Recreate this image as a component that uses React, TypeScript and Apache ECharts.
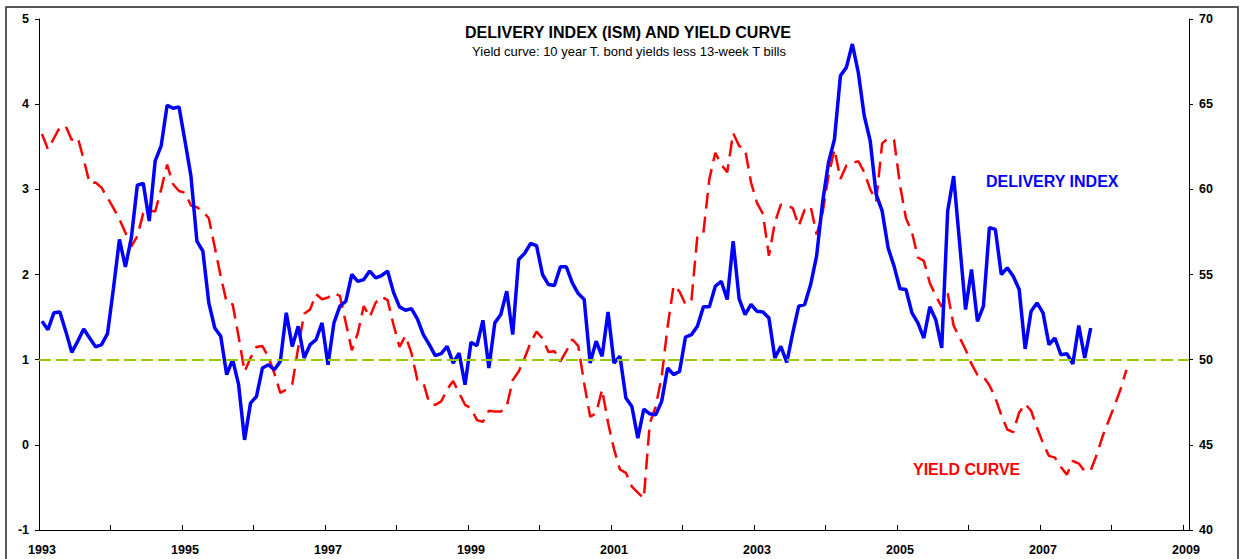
import React, { useEffect, useRef } from "react";
import * as echarts from "echarts";

// ---- Data ----
const START_YEAR = 1993;
const MONTH_COUNT = 193; // Jan 1993 .. Jan 2009

const categories: string[] = Array.from({ length: MONTH_COUNT }, (_, i) =>
  `${START_YEAR + Math.floor(i / 12)}-${String((i % 12) + 1).padStart(2, "0")}`
);

// Yield curve (left axis), monthly from Jan 1993
const yieldCurve: number[] = [
  3.65, 3.47, 3.60, 3.73, 3.74, 3.58, 3.61, 3.35, 3.07, 3.08, 3.02, 2.90,
  2.78, 2.65, 2.49, 2.33, 2.45, 2.72, 2.75, 2.74, 3.00, 3.29, 3.06, 2.98,
  2.96, 2.81, 2.79, 2.74, 2.66, 2.32, 1.98, 1.67, 1.65, 1.27, 0.86, 1.02,
  1.15, 1.16, 1.03, 0.84, 0.61, 0.65, 0.71, 1.14, 1.54, 1.59, 1.77, 1.71,
  1.73, 1.78, 1.75, 1.43, 1.11, 1.31, 1.63, 1.50, 1.67, 1.74, 1.70, 1.41,
  1.15, 1.28, 1.08, 0.76, 0.73, 0.49, 0.47, 0.51, 0.65, 0.75, 0.61, 0.47,
  0.43, 0.29, 0.27, 0.40, 0.39, 0.39, 0.45, 0.76, 0.86, 1.02, 1.20, 1.33,
  1.25, 1.09, 1.10, 0.98, 1.10, 1.24, 1.16, 0.72, 0.33, 0.37, 0.65, 0.26,
  -0.05, -0.29, -0.33, -0.49, -0.56, -0.63, 0.25, 0.45, 0.80, 1.39, 1.87, 1.80,
  1.65, 1.70, 2.46, 2.49, 3.12, 3.43, 3.29, 3.20, 3.66, 3.51, 3.47, 3.08,
  2.84, 2.71, 2.22, 2.61, 2.82, 2.81, 2.78, 2.57, 2.76, 2.80, 2.47, 2.72,
  3.16, 3.47, 3.12, 3.28, 3.31, 3.33, 3.20, 3.00, 2.86, 3.54, 3.60, 3.58,
  3.05, 2.66, 2.50, 2.20, 2.16, 1.90, 1.75, 1.62, 1.78, 1.40, 1.26, 1.12,
  0.95, 0.82, 0.80, 0.70, 0.55, 0.35, 0.18, 0.15, 0.38, 0.48, 0.40, 0.20,
  0.02, -0.13, -0.15, -0.26, -0.35, -0.19, -0.22, -0.31, -0.30, -0.12, 0.10, 0.28,
  0.46, 0.65, 0.88,
];

// ISM delivery index (right axis), monthly from Jan 1993
const deliveryIndex: number[] = [
  52.25, 51.76, 52.75, 52.8, 51.66, 50.43, 51.08, 51.8, 51.27, 50.75, 50.88, 51.53,
  54.2, 57.06, 55.45, 57.16, 60.24, 60.35, 58.14, 61.67, 62.55, 64.94, 64.76, 64.84,
  62.84, 60.78, 56.96, 56.37, 53.33, 51.86, 51.37, 49.12, 50.0, 48.53, 45.29, 47.45,
  47.84, 49.51, 49.7, 49.41, 49.9, 52.75, 50.78, 51.96, 50.1, 50.88, 51.18, 52.16,
  49.7, 52.16, 53.14, 53.43, 55.0, 54.6, 54.7, 55.2, 54.8, 54.94, 55.2, 53.95,
  53.1, 52.9, 53.0, 52.4, 51.47, 50.88, 50.24, 50.35, 50.78, 49.8, 50.39, 48.53,
  51.02, 50.82, 52.31, 49.51, 52.16, 52.65, 54.02, 51.47, 55.88, 56.24, 56.82, 56.7,
  55.0, 54.41, 54.35, 55.45, 55.45, 54.51, 53.88, 53.53, 49.8, 51.08, 50.2, 52.8,
  49.8, 50.2, 47.75, 47.25, 45.39, 47.1, 46.82, 46.76, 47.55, 49.51, 49.12, 49.31,
  51.33, 51.47, 51.96, 53.1, 53.1, 54.31, 54.6, 53.53, 56.96, 53.57, 52.65, 53.24,
  52.84, 52.8, 52.45, 50.1, 50.78, 49.84, 51.57, 53.14, 53.24, 54.41, 56.08, 59.22,
  61.57, 62.94, 66.67, 67.16, 68.53, 66.86, 64.31, 62.84, 59.7, 58.73, 56.57, 55.49,
  54.16, 54.12, 52.75, 52.16, 51.27, 53.1, 52.35, 50.69, 58.73, 60.78, 56.86, 52.94,
  55.29, 52.25, 53.14, 57.75, 57.65, 55.0, 55.39, 54.9, 54.12, 50.63, 52.84, 53.33,
  52.75, 50.88, 51.27, 50.29, 50.35, 49.75, 52.0, 50.1, 51.86,
];

const leftTicks = { min: -1, max: 5, interval: 1 };
const rightTicks = { min: 40, max: 70, interval: 5 };
const referenceLevel = 50;

const TITLE = "DELIVERY INDEX (ISM) AND YIELD CURVE";
const SUBTITLE = "Yield curve: 10 year T. bond yields less 13-week T bills";

const FONT = "'Liberation Sans', Arial, Helvetica, sans-serif";

export default function App() {
  const ref = useRef<HTMLDivElement>(null);

  useEffect(() => {
    if (!ref.current) return;
    const chart = echarts.init(ref.current, undefined, { renderer: "svg" });

    const axisLabelStyle = {
      fontFamily: FONT,
      fontWeight: "bold" as const,
      fontSize: 12.5,
      color: "#000",
    };

    chart.setOption({
      animation: false,
      backgroundColor: "#fff",
      grid: { left: 39, right: 55, top: 19, bottom: 29, containLabel: false },
      xAxis: {
        type: "category",
        data: categories,
        boundaryGap: true,
        axisLine: { show: true, onZero: false, lineStyle: { color: "#000", width: 1 } },
        axisTick: {
          show: true,
          inside: true,
          length: 5,
          interval: (i: number) => i % 12 === 0,
          lineStyle: { color: "#000", width: 1 },
        },
        axisLabel: {
          ...axisLabelStyle,
          margin: 13,
          interval: (i: number) => i % 24 === 0,
          formatter: (v: string) => v.slice(0, 4),
        },
        splitLine: { show: false },
      },
      yAxis: [
        {
          type: "value",
          position: "left",
          ...leftTicks,
          axisLine: { show: true, onZero: false, lineStyle: { color: "#000", width: 1 } },
          axisTick: { show: true, inside: false, length: 4, lineStyle: { color: "#000" } },
          axisLabel: { ...axisLabelStyle, margin: 10 },
          splitLine: { show: false },
        },
        {
          type: "value",
          position: "right",
          ...rightTicks,
          axisLine: { show: true, onZero: false, lineStyle: { color: "#000", width: 1 } },
          axisTick: { show: true, inside: false, length: 4, lineStyle: { color: "#000" } },
          axisLabel: { ...axisLabelStyle, margin: 10 },
          splitLine: { show: false },
        },
      ],
      series: [
        {
          name: "Yield curve",
          type: "line",
          yAxisIndex: 0,
          data: yieldCurve,
          showSymbol: false,
          symbol: "none",
          smooth: false,
          lineStyle: { color: "#FF0000", width: 2.5, type: [16, 8] },
          z: 2,
        },
        {
          name: "Delivery index",
          type: "line",
          yAxisIndex: 1,
          data: deliveryIndex,
          showSymbol: false,
          symbol: "none",
          smooth: false,
          lineStyle: { color: "#0000FF", width: 3.5 },
          z: 3,
          markLine: {
            silent: true,
            symbol: "none",
            label: { show: false },
            lineStyle: { color: "#99CC00", width: 2, type: [12, 5] },
            data: [{ yAxis: referenceLevel }],
          },
        },
      ],
      graphic: [
        {
          type: "rect",
          shape: { x: 6, y: 7, width: 1232, height: 560 },
          style: { fill: "none", stroke: "#222", lineWidth: 1.5 },
          silent: true,
          z: 100,
        },
        {
          type: "text",
          x: 628,
          y: 32,
          style: {
            text: TITLE,
            fontFamily: FONT,
            fontWeight: "bold",
            fontSize: 16,
            fill: "#000",
            align: "center",
            verticalAlign: "middle",
          },
        },
        {
          type: "text",
          x: 629,
          y: 51,
          style: {
            text: SUBTITLE,
            fontFamily: FONT,
            fontSize: 13,
            fill: "#000",
            align: "center",
            verticalAlign: "middle",
          },
        },
        {
          type: "text",
          x: 986,
          y: 181,
          style: {
            text: "DELIVERY INDEX",
            fontFamily: FONT,
            fontWeight: "bold",
            fontSize: 16,
            fill: "#0000FF",
            align: "left",
            verticalAlign: "middle",
          },
        },
        {
          type: "text",
          x: 913,
          y: 469,
          style: {
            text: "YIELD CURVE",
            fontFamily: FONT,
            fontWeight: "bold",
            fontSize: 16,
            fill: "#FF0000",
            align: "left",
            verticalAlign: "middle",
          },
        },
      ],
    });

    return () => chart.dispose();
  }, []);

  return (
    <div
      ref={ref}
      style={{ position: "fixed", left: 0, top: 0, width: 1244, height: 559, background: "#fff" }}
    />
  );
}
